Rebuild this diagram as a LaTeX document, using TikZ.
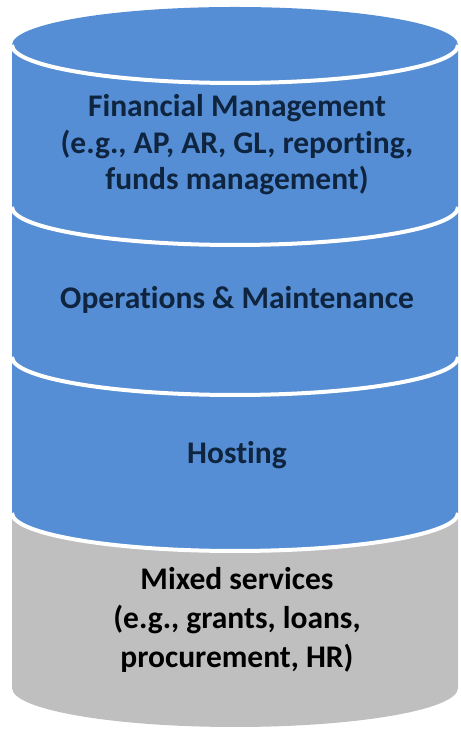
\documentclass[tikz,border=0pt]{standalone}
\usepackage{fontspec}
\setmainfont{Carlito}[Ligatures=NoCommon]
\definecolor{layerblue}{HTML}{558ED5}
\definecolor{layergray}{HTML}{BFBFBF}
\definecolor{navytext}{HTML}{0F243E}
\begin{document}
\begin{tikzpicture}[x=1pt,y=1pt,
  sep/.style={white,line width=4pt},
  lbl/.style={align=center,font=\fontsize{31.5}{36.5}\selectfont\bfseries,text=navytext,inner sep=0pt},
  lblk/.style={lbl,font=\fontsize{31.5}{39}\selectfont\bfseries,text=black}]
\useasboundingbox (0,0) rectangle (460,730);
% gray bottom segment
\fill[layergray] (12,217) -- (12,42) arc[start angle=180,end angle=360,x radius=223,y radius=39] -- (458,217) -- cycle;
% hosting
\fill[layerblue] (12,373) -- (12,217) arc[start angle=180,end angle=360,x radius=223,y radius=38] -- (458,373) -- cycle;
\draw[sep] (12,217) arc[start angle=180,end angle=360,x radius=223,y radius=38];
% operations
\fill[layerblue] (12,523) -- (12,373) arc[start angle=180,end angle=360,x radius=223,y radius=38] -- (458,523) -- cycle;
\draw[sep] (12,373) arc[start angle=180,end angle=360,x radius=223,y radius=38];
% financial
\fill[layerblue] (12,685) -- (12,523) arc[start angle=180,end angle=360,x radius=223,y radius=38] -- (458,685) -- cycle;
\draw[sep] (12,523) arc[start angle=180,end angle=360,x radius=223,y radius=38];
% top face
\fill[layerblue] (235,685) ellipse[x radius=223,y radius=38];
\draw[sep] (12,685) arc[start angle=180,end angle=360,x radius=223,y radius=38];
% labels
\node[lbl] (fm) at (237,585) {Financial Management\\(e.g., AP, AR, GL, reporting,\\funds management)};
\node[lbl] (om) at (237,430) {Operations \& Maintenance};
\node[lbl] (host) at (237,275) {Hosting};
\node[lblk] (mix) at (237,110) {Mixed services\\(e.g., grants, loans,\\procurement, HR)};
\end{tikzpicture}
\end{document}
